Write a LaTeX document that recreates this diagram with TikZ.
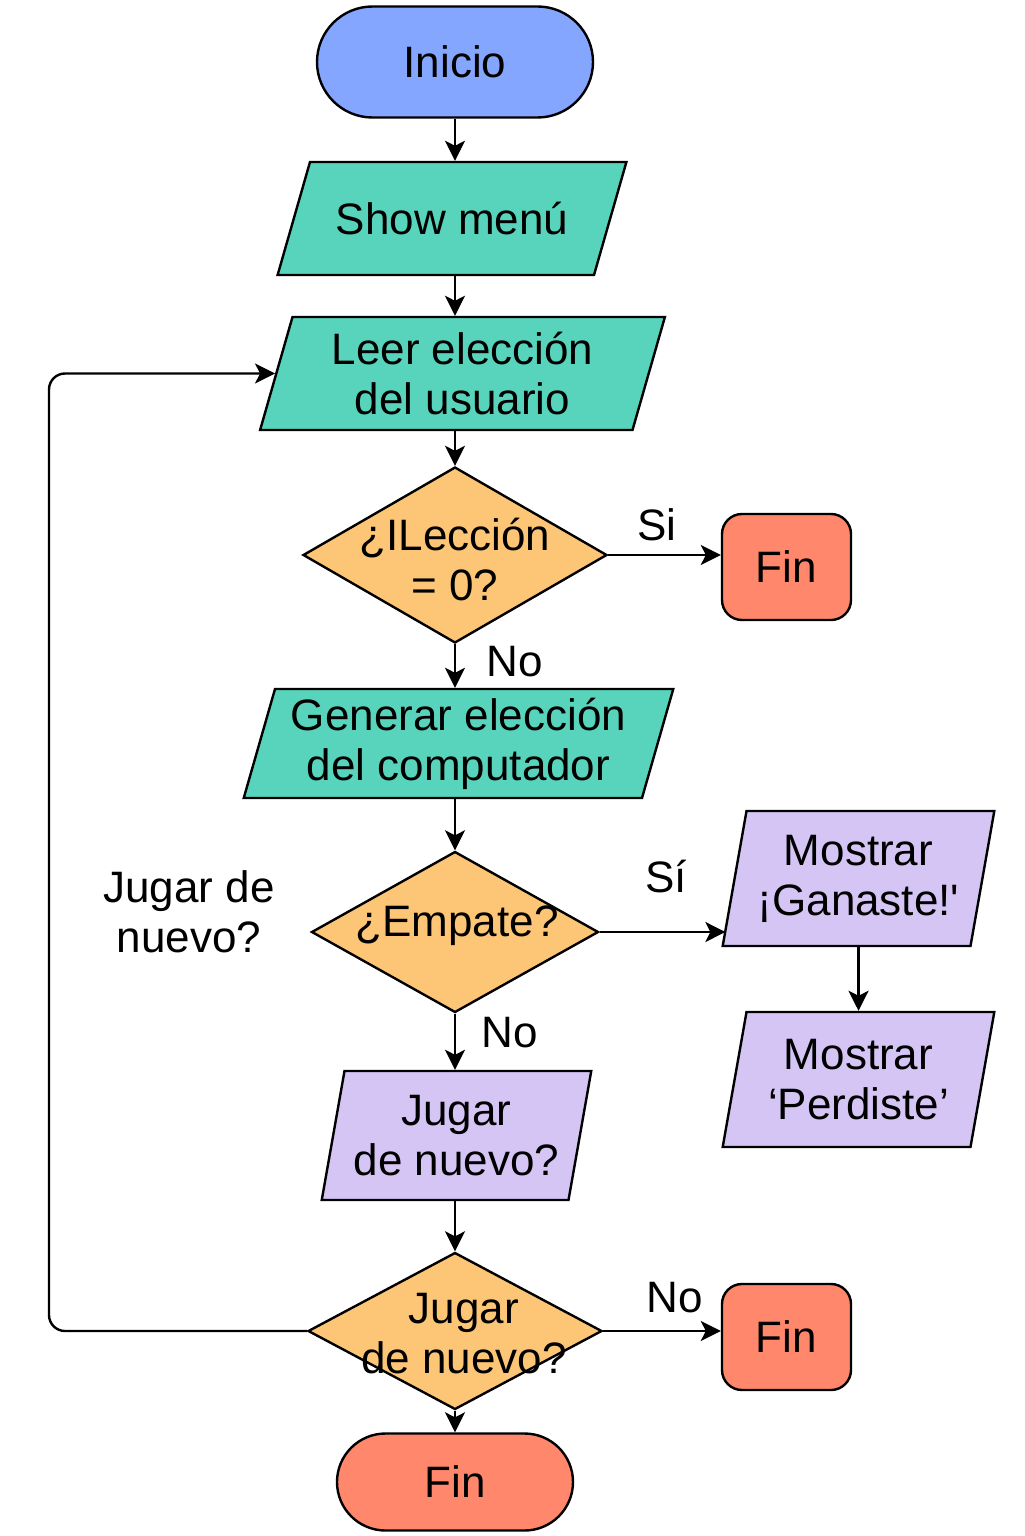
\documentclass[tikz,border=0pt]{standalone}
\usepackage{fontspec}
\setmainfont{Liberation Sans}[Ligatures=TeXOff]
\usetikzlibrary{shapes.geometric,shapes.misc,arrows.meta}

\definecolor{startblue}{RGB}{132,166,255}
\definecolor{iogreen}{RGB}{88,212,188}
\definecolor{askorange}{RGB}{253,198,118}
\definecolor{endred}{RGB}{255,136,108}
\definecolor{showlila}{RGB}{213,197,245}

% text block of fixed size for the slanted boxes
\newcommand{\iobox}[3]{\parbox[c][#2][c]{#1}{\centering #3}}

\tikzset{
  txt/.style={font=\fontsize{22}{25}\selectfont, align=center},
  base/.style={txt, draw, line width=1.2pt, inner sep=0pt},
  terminal/.style={base, rounded rectangle},
  io/.style={base, trapezium, trapezium left angle=74, trapezium right angle=106, fill=iogreen},
  iop/.style={base, trapezium, trapezium left angle=80, trapezium right angle=100, fill=showlila},
  decision/.style={base, diamond, fill=askorange},
  finbox/.style={base, rounded corners=10pt, fill=endred, minimum width=64.5pt, minimum height=53pt},
  arr/.style={-{Stealth[length=10pt,width=10pt,inset=2.5pt]}, line width=1.2pt}
}

\begin{document}
\begin{tikzpicture}[x=0.5pt, y=-0.5pt]
\useasboundingbox (0,0) rectangle (1024,1536);

\node [terminal, fill=startblue, minimum width=138pt, minimum height=55.5pt] (inicio) at (455,62) {Inicio};
\node [io] (show) at (452,218.5) {\iobox{142pt}{56.5pt}{Show menú}};
\node [io] (leer) at (462.5,373.5) {\iobox{170pt}{56.5pt}{Leer elección\\del usuario}};

\node [decision, minimum width=152pt, minimum height=88pt] (d1) at (455,555) {};
\node [txt] (d1t) at (455,560) {¿ILección\\= 0?};
\node [finbox] (fin1) at (786.5,567) {Fin};

\node [io] (gen) at (458.5,743.5) {\iobox{183.5pt}{54.5pt}{Generar elección\\del computador}};

\node [decision, minimum width=143.5pt, minimum height=80.5pt] (d2) at (455,932) {};
\node [txt] (d2t) at (457,926) {¿Empate?};
\node [iop] (gan) at (858.5,878.5) {\iobox{112pt}{67.5pt}{Mostrar\\¡Ganaste!'}};
\node [iop] (perd) at (858.5,1079.5) {\iobox{112pt}{67.5pt}{Mostrar\\‘Perdiste’}};

\node [txt] (jugtxt) at (189,912) {Jugar de\\nuevo?};

\node [iop] (jug) at (456.5,1135.5) {\iobox{112pt}{64.5pt}{Jugar\\de nuevo?}};

\node [decision, minimum width=147pt, minimum height=78.5pt] (d3) at (455,1331) {};
\node [txt] (d3t) at (464,1334) {Jugar\\de nuevo?};
\node [finbox] (fin2) at (786.5,1337) {Fin};

\node [terminal, fill=endred, minimum width=118pt, minimum height=48.5pt] (fin3) at (455,1482) {Fin};

% main column
\draw [arr] (inicio.south) -- (inicio.south |- show.north);
\draw [arr] (show.south -| inicio) -- (inicio |- leer.north);
\draw [arr] (leer.south -| d1) -- (d1.north);
\draw [arr] (d1.south) -- (d1 |- gen.north);
\draw [arr] (gen.south -| d1) -- (d2.north);
\draw [arr] (d2.south) -- (d2 |- jug.north);
\draw [arr] (jug.south -| d3) -- (d3.north);
\draw [arr] (d3.south) -- (fin3.north);

% side branches
\draw [arr] (d1.east) -- (d1.east -| fin1.west);
\draw [arr, shorten >=4pt] (d2.east) -- (d2.east -| gan.west);
\draw [arr] (gan.south) -- (gan.south |- perd.north);
\draw [arr] (d3.east) -- (d3.east -| fin2.west);

% back to reading
\coordinate (back) at (49,1331);
\draw [arr, rounded corners=8pt] (d3.west) -- (back) |- (leer.west);

\node [txt] (si1) at (657,525) {Si};
\node [txt] (no1) at (515,662) {No};
\node [txt] (si2) at (666,877) {Sí};
\node [txt] (no2) at (510,1033) {No};
\node [txt] (no3) at (675,1298) {No};

\end{tikzpicture}
\end{document}
